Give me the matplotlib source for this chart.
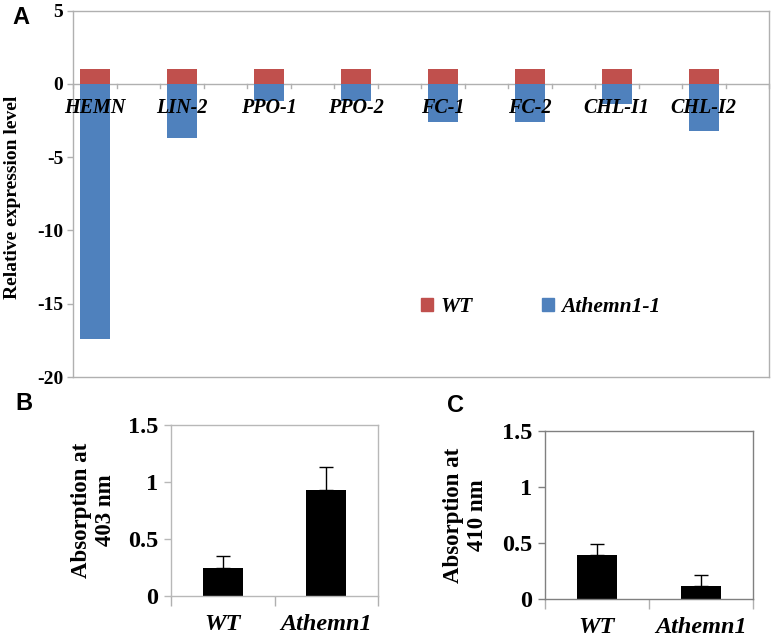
import matplotlib
matplotlib.use("Agg")
import matplotlib.pyplot as plt
from matplotlib.patches import Patch
import numpy as np

# ---------------- data ----------------
genes = ["HEMN", "LIN-2", "PPO-1", "PPO-2", "FC-1", "FC-2", "CHL-I1", "CHL-I2"]
wt_expr = [1, 1, 1, 1, 1, 1, 1, 1]
mut_expr = [-17.4, -3.7, -1.15, -1.15, -2.6, -2.6, -1.4, -3.2]

abs_groups = ["WT", "Athemn1"]
abs403 = [0.25, 0.93]
abs403_err = [0.105, 0.20]
abs410 = [0.39, 0.12]
abs410_err = [0.105, 0.095]

RED = "#C0504D"
BLUE = "#4F81BD"
SERIF = "Liberation Serif"
SANS = "Liberation Sans"

W, H = 771, 638
fig = plt.figure(figsize=(W / 100, H / 100), dpi=100)


def ax_px(l, t, r, b):
    return fig.add_axes([l / W, 1 - b / H, (r - l) / W, (b - t) / H])


# ---------------- Panel A ----------------
axA = ax_px(73, 10.6, 769, 377)
x = np.arange(len(genes))
bw = 0.34
axA.bar(x, wt_expr, width=bw, color=RED, zorder=2, label="WT")
axA.bar(x, mut_expr, width=bw, color=BLUE, zorder=2, label="Athemn1-1")
axA.set_xlim(-0.25, len(genes) - 0.25)
axA.set_ylim(-20, 5)
axA.set_yticks([5, 0, -5, -10, -15, -20])
axA.set_yticklabels(["5", "0", "-5", "-10", "-15", "-20"])
for s in axA.spines.values():
    s.set_color("#b0b0b0")
    s.set_linewidth(1.0)
axA.axhline(0, color="#b0b0b0", lw=1.0, zorder=1)
# tick marks along the zero line
tick_pos = np.arange(-0.25, len(genes) - 0.2, 0.5)
for tp in tick_pos:
    axA.plot([tp, tp], [0, -0.28], color="#b0b0b0", lw=1.0, zorder=1, clip_on=False)
axA.set_xticks([])
axA.tick_params(axis="y", length=4, color="#b0b0b0", width=1.0, pad=3)
for lab in axA.get_yticklabels():
    lab.set_fontfamily(SERIF)
    lab.set_fontweight("bold")
    lab.set_fontsize(14)
for xi, g in zip(x, genes):
    axA.text(xi, -1.65, g, ha="center", va="center", fontfamily=SERIF,
             fontweight="bold", fontstyle="italic", fontsize=14.5, zorder=3)
axA.set_ylabel("Relative expression level", fontfamily=SERIF, fontweight="bold",
               fontsize=14)
axA.yaxis.set_label_coords(-0.075, 0.49)
handles = [Patch(color=RED, label="WT"), Patch(color=BLUE, label="Athemn1-1")]
leg = axA.legend(handles=handles, loc="center", bbox_to_anchor=(541 / W, 1 - 307 / H),
                 bbox_transform=fig.transFigure, ncol=2, frameon=False,
                 handlelength=0.55, handleheight=0.55, handletextpad=0.35,
                 columnspacing=3.2,
                 prop=dict(family=SERIF, weight="bold", style="italic", size=15.5))

fig.text(21 / W, 1 - 17 / H, "A", fontfamily=SANS, fontweight="bold", fontsize=17,
         ha="center", va="center")


# ---------------- Panels B, C ----------------
def abs_panel(ax, vals, errs, ylabel, spine_col):
    xx = np.arange(len(abs_groups))
    ax.bar(xx, vals, width=0.39, color="black", zorder=2)
    ax.errorbar(xx, vals, yerr=[np.zeros(len(errs)), errs], fmt="none",
                ecolor="black", elinewidth=1.0, capsize=5, capthick=1.0, zorder=3)
    ax.set_xlim(-0.5, 1.5)
    ax.set_ylim(0, 1.5)
    ax.set_yticks([0, 0.5, 1, 1.5])
    ax.set_yticklabels(["0", "0.5", "1", "1.5"])
    for s in ax.spines.values():
        s.set_color(spine_col)
        s.set_linewidth(1.0)
    ax.set_xticks([-0.5, 0.5, 1.5], minor=True)
    ax.set_xticks([0, 1])
    ax.set_xticklabels(abs_groups)
    ax.tick_params(axis="x", which="major", length=0, pad=13)
    ax.tick_params(axis="x", which="minor", length=7, color="#b0b0b0", width=1.0)
    ax.tick_params(axis="y", length=5, color=spine_col, width=1.0, pad=4)
    for lab in ax.get_yticklabels():
        lab.set_fontfamily(SERIF)
        lab.set_fontweight("bold")
        lab.set_fontsize(17.5)
    for lab in ax.get_xticklabels():
        lab.set_fontfamily(SERIF)
        lab.set_fontweight("bold")
        lab.set_fontstyle("italic")
        lab.set_fontsize(17.5)
    ax.set_ylabel(ylabel, fontfamily=SERIF, fontweight="bold", fontsize=16.5,
                  linespacing=1.2)


axB = ax_px(171, 425, 378, 596)
abs_panel(axB, abs403, abs403_err, "Absorption at\n403 nm", "#b8b8b8")
axB.yaxis.set_label_coords(-0.265, 0.5)
fig.text(24 / W, 1 - 403 / H, "B", fontfamily=SANS, fontweight="bold", fontsize=17,
         ha="center", va="center")

axC = ax_px(545, 431, 753, 599)
abs_panel(axC, abs410, abs410_err, "Absorption at\n410 nm", "#808080")
axC.yaxis.set_label_coords(-0.275, 0.5)
fig.text(456 / W, 1 - 405 / H, "C", fontfamily=SANS, fontweight="bold", fontsize=17,
         ha="center", va="center")

fig.savefig("out.png", dpi=100)
